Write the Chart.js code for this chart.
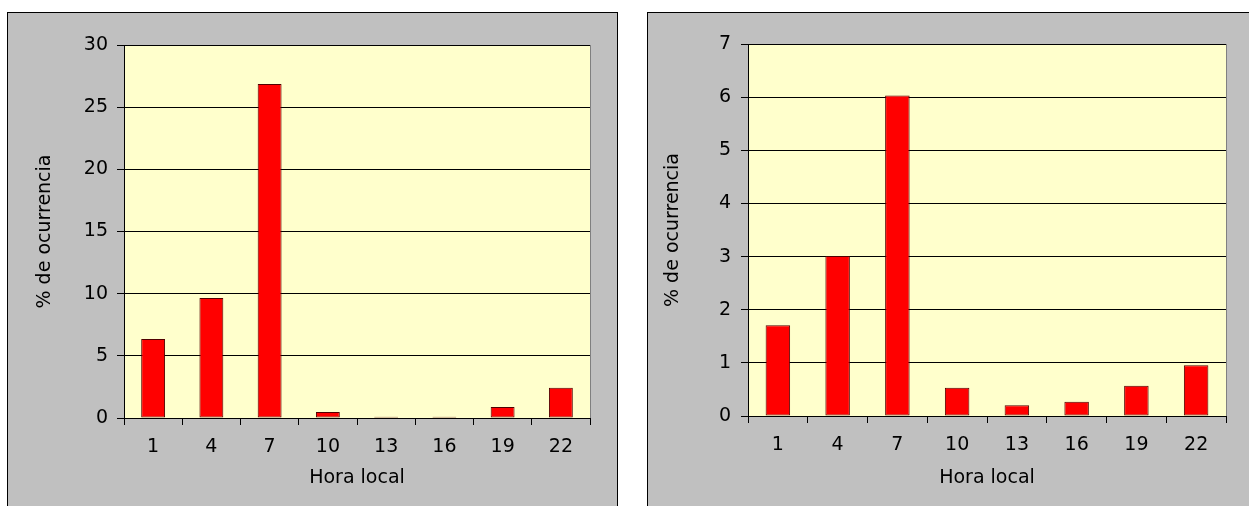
<!DOCTYPE html>
<html>
<head>
<meta charset="utf-8">
<script src="https://cdn.jsdelivr.net/npm/chart.js@4"></script>
<style>
    body { margin: 0; background: #fff; width: 1249px; height: 506px; overflow: hidden; position: relative; }
    .panel { position: absolute; top: 12px; height: 520px; background: #c0c0c0; border: 1px solid #000; }
    #panelLeft { left: 7px; width: 609px; }
    #panelRight { left: 647px; width: 620px; }
    .panel canvas { position: absolute; left: 0; top: 0; }
</style>
</head>
<body>
<div class="panel" id="panelLeft"><canvas id="chartLeft" width="609" height="493"></canvas></div>
<div class="panel" id="panelRight"><canvas id="chartRight" width="601" height="493"></canvas></div>
<script>
// ============================================
// % de ocurrencia por hora local (dos paneles)
// ============================================

const horas = ['1', '4', '7', '10', '13', '16', '19', '22'];
const ocurrenciaIzq = [6.35, 9.65, 26.87, 0.48, 0.1, 0.1, 0.88, 2.44];
const ocurrenciaDer = [1.71, 3.01, 6.03, 0.53, 0.2, 0.27, 0.57, 0.955];
const ejeIzq = { max: 30, step: 5 };
const ejeDer = { max: 7, step: 1 };

const FONT = 'DejaVu Sans';

// fondo amarillo del area de trazado + borde derecho gris
const plotBackground = {
    id: 'plotBackground',
    beforeDraw(chart) {
        const { ctx, chartArea: a } = chart;
        ctx.save();
        ctx.fillStyle = '#ffffcc';
        ctx.fillRect(a.left, a.top, a.right - a.left, a.bottom - a.top);
        ctx.strokeStyle = '#808080';
        ctx.lineWidth = 1;
        ctx.beginPath();
        ctx.moveTo(Math.round(a.right) + 0.5, a.top);
        ctx.lineTo(Math.round(a.right) + 0.5, a.bottom);
        ctx.stroke();
        ctx.restore();
    }
};

function makeChart(id, values, eje, lay) {
    const ctx = document.getElementById(id).getContext('2d');
    return new Chart(ctx, {
        type: 'bar',
        data: {
            labels: horas,
            datasets: [{ data: values, backgroundColor: '#ff0000', borderColor: '#500000', borderWidth: 1, borderSkipped: false, barPercentage: 0.41, categoryPercentage: 1 }]
        },
        options: {
            responsive: false,
            animation: false,
            layout: { padding: { left: 0, top: lay.top, right: lay.right, bottom: 0 } },
            plugins: { legend: { display: false }, tooltip: { enabled: false } },
            scales: {
                x: {
                    grid: { offset: true, drawOnChartArea: false, color: '#000', tickLength: 7 },
                    border: { color: '#000' },
                    ticks: { color: '#000', font: { family: FONT, size: 19 }, padding: 11, maxRotation: 0 },
                    title: { display: true, text: 'Hora local', color: '#000', font: { family: FONT, size: 19 }, padding: { top: 0, bottom: 17 } },
                    afterFit: (s) => { s.height = lay.xHeight; }
                },
                y: {
                    min: 0, max: eje.max,
                    ticks: { stepSize: eje.step, color: '#000', font: { family: FONT, size: 19 }, padding: lay.tickPad },
                    grid: { color: '#000', tickLength: 7 },
                    border: { color: '#000' },
                    title: { display: true, text: '% de ocurrencia', color: '#000', font: { family: FONT, size: 19 }, padding: { top: lay.titlePad, bottom: 0 } },
                    afterFit: (s) => { s.width = lay.yWidth; }
                }
            }
        },
        plugins: [plotBackground]
    });
}

makeChart('chartLeft', ocurrenciaIzq, ejeIzq, { top: 32, right: 27, xHeight: 88, yWidth: 116, tickPad: 9, titlePad: 26 });
makeChart('chartRight', ocurrenciaDer, ejeDer, { top: 31, right: 23, xHeight: 90, yWidth: 100, tickPad: 10, titlePad: 14 });
</script>
</body>
</html>
